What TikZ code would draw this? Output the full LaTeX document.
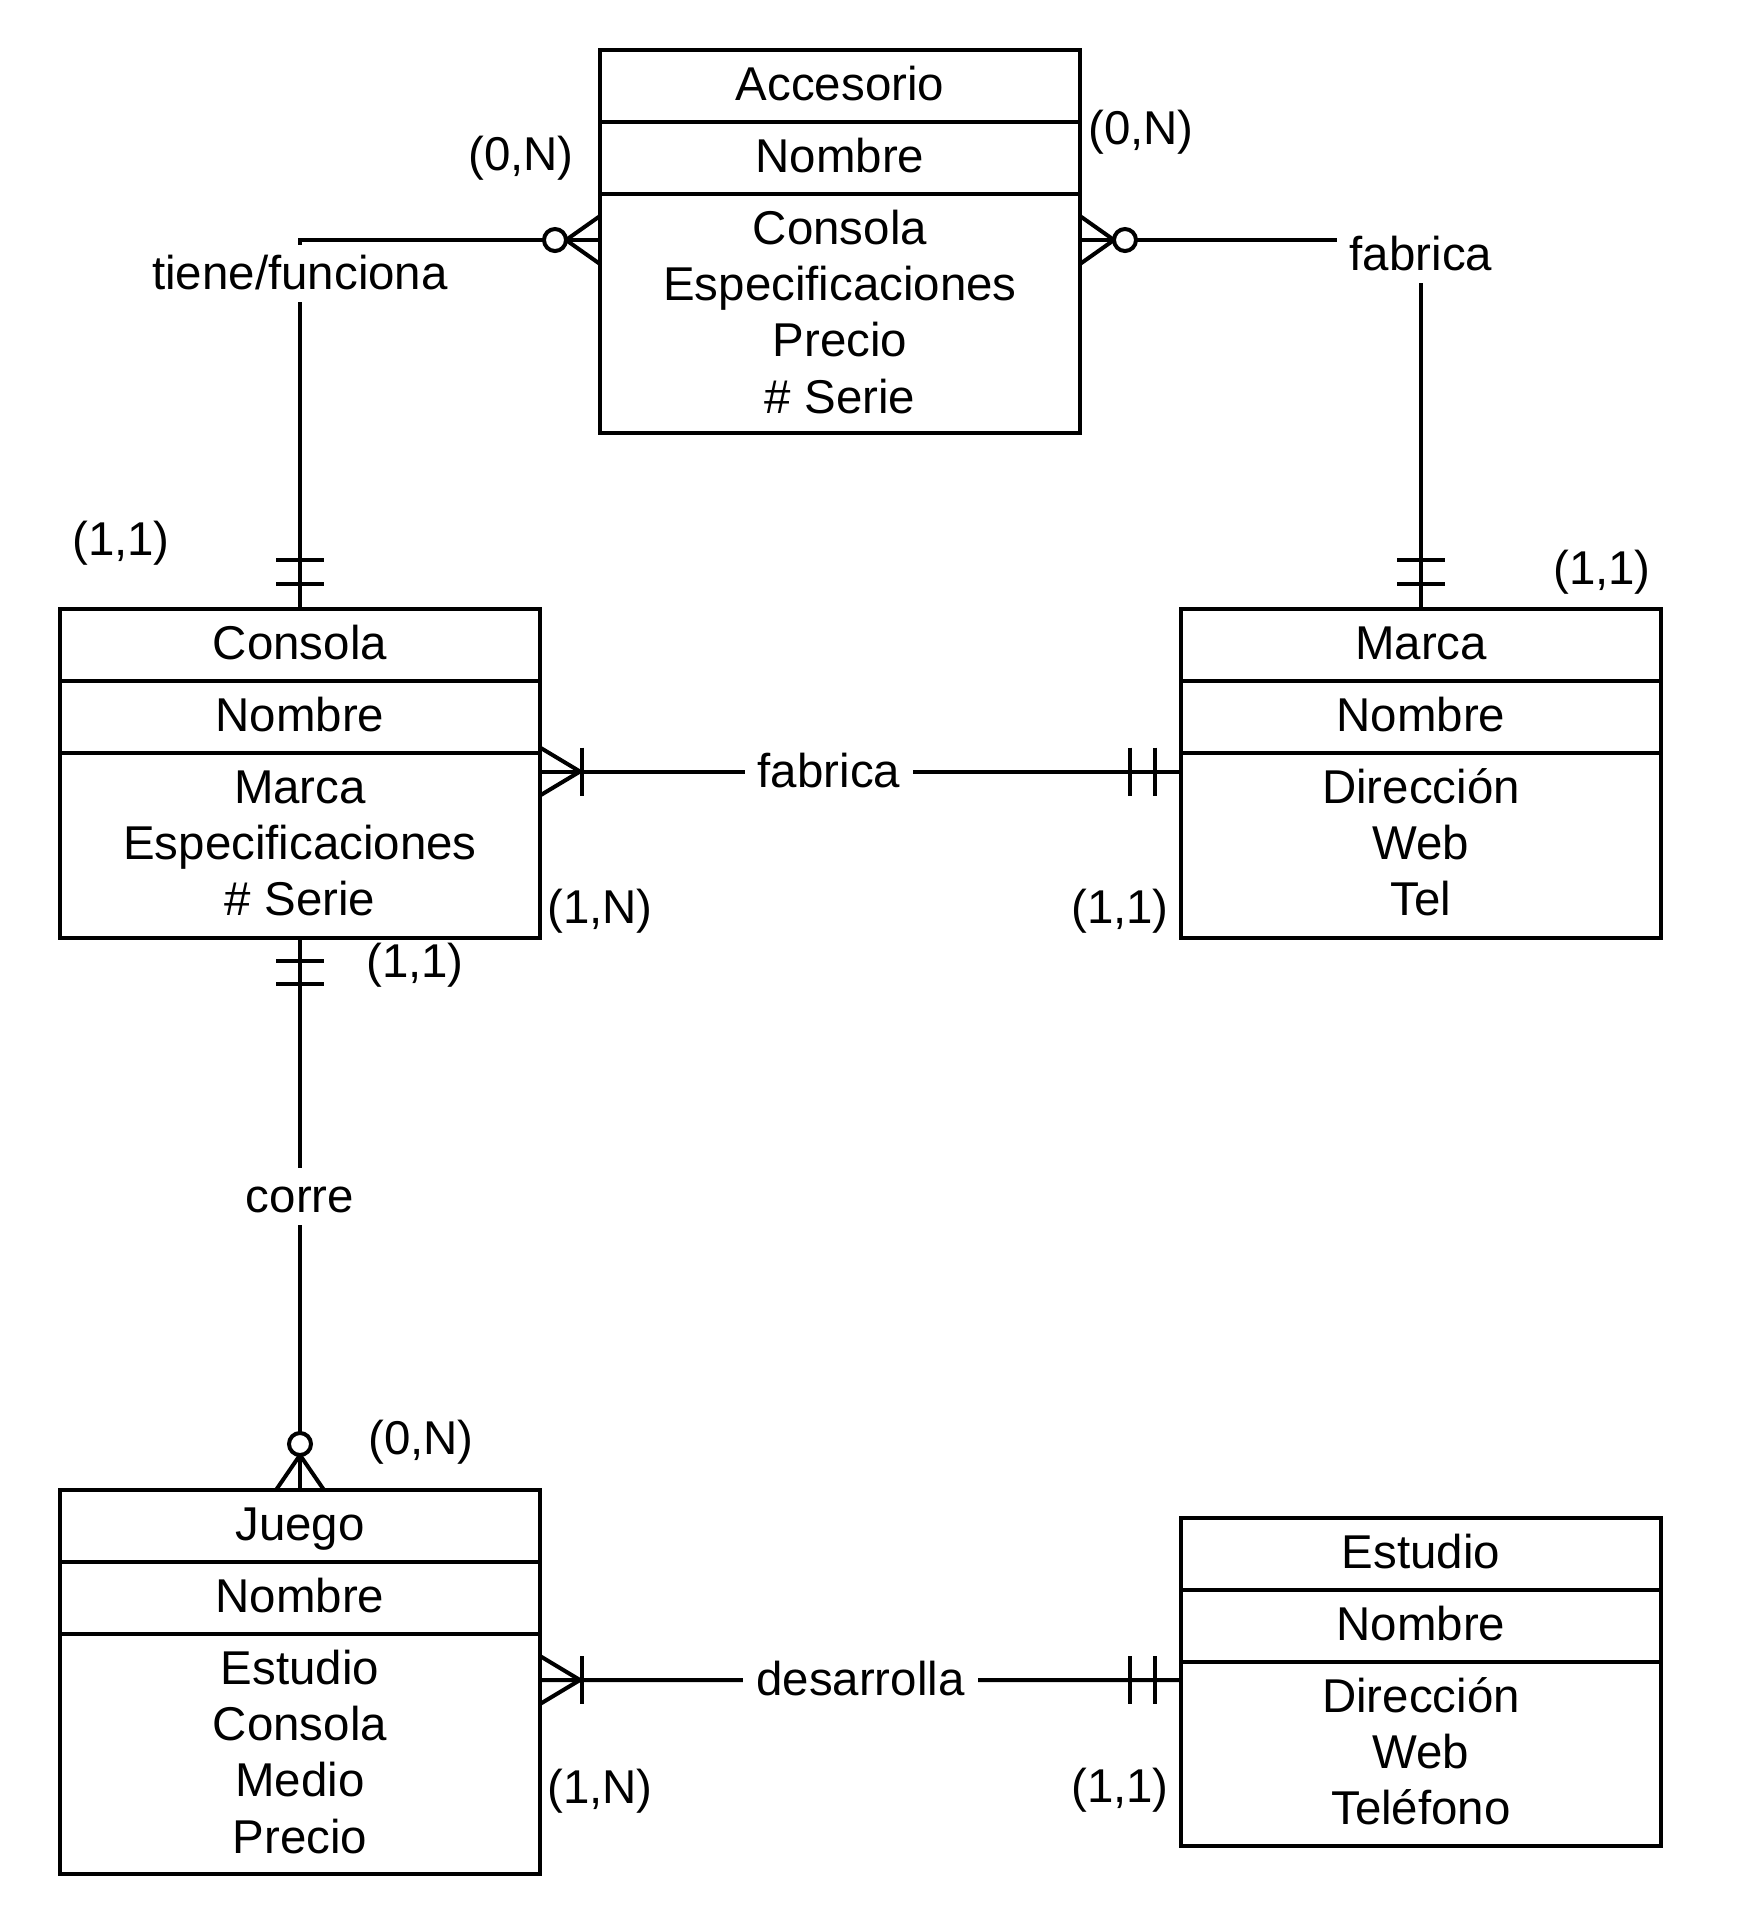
\documentclass[tikz,border=0pt]{standalone}
\usepackage{fontspec}
\setmainfont{Liberation Sans}
\usetikzlibrary{calc}
\begin{document}
\begin{tikzpicture}[x=1cm,y=1cm,line width=0.04cm,
  every node/.style={font=\fontsize{13.5pt}{16.05pt}\selectfont, inner sep=0pt, outer sep=0pt},
  ent/.style={draw, minimum width=4.8cm, minimum height=0.72cm, text height=0.40cm, text depth=0.11cm, anchor=north},
  comp/.style={draw, minimum width=4.8cm, anchor=north},
  attrs/.style={align=center, anchor=north},
  rel/.style={fill=white, inner xsep=0.13cm, text height=0.44cm, text depth=0.13cm, anchor=base},
  card/.style={text height=0.34cm, text depth=0.10cm}]
\useasboundingbox (0,0) rectangle (17.39,-19.24);

% ---------- entities ----------
% Accesorio
\node[ent] (acc-t) at (8.40,-0.50) {Accesorio};
\node[ent] (acc-k) at (acc-t.south) {Nombre};
\node[comp, minimum height=2.39cm] (acc-a) at (acc-k.south) {};
\node[attrs] (acc-x) at ($(acc-a.north)+(0,-0.10)$) {\rule{0pt}{0.40cm}Consola\\Especificaciones\\Precio\\\# Serie};
% Consola
\node[ent] (con-t) at (3.00,-6.09) {Consola};
\node[ent] (con-k) at (con-t.south) {Nombre};
\node[comp, minimum height=1.85cm] (con-a) at (con-k.south) {};
\node[attrs] (con-x) at ($(con-a.north)+(0,-0.10)$) {\rule{0pt}{0.40cm}Marca\\Especificaciones\\\# Serie};
% Marca
\node[ent] (mar-t) at (14.21,-6.09) {Marca};
\node[ent] (mar-k) at (mar-t.south) {Nombre};
\node[comp, minimum height=1.85cm] (mar-a) at (mar-k.south) {};
\node[attrs] (mar-x) at ($(mar-a.north)+(0,-0.10)$) {\rule{0pt}{0.40cm}Dirección\\Web\\Tel};
% Juego
\node[ent] (jue-t) at (3.00,-14.90) {Juego};
\node[ent] (jue-k) at (jue-t.south) {Nombre};
\node[comp, minimum height=2.40cm] (jue-a) at (jue-k.south) {};
\node[attrs] (jue-x) at ($(jue-a.north)+(0,-0.10)$) {\rule{0pt}{0.40cm}Estudio\\Consola\\Medio\\Precio};
% Estudio
\node[ent] (est-t) at (14.21,-15.18) {Estudio};
\node[ent] (est-k) at (est-t.south) {Nombre};
\node[comp, minimum height=1.84cm] (est-a) at (est-k.south) {};
\node[attrs] (est-x) at ($(est-a.north)+(0,-0.10)$) {\rule{0pt}{0.40cm}Dirección\\Web\\Teléfono};

% ---------- connectors ----------
% tiene/funciona
\coordinate (p1) at ($(acc-a.north west)+(0,-0.46)$);
\draw (p1) -| (con-t.north);
\draw ($(p1)+(0,0.24)$) -- ($(p1)+(-0.34,0)$) -- ($(p1)+(0,-0.24)$);
\draw[fill=white] ($(p1)+(-0.45,0)$) circle (0.11);
\draw ($(con-t.north)+(-0.24,0.25)$) -- ++(0.48,0);
\draw ($(con-t.north)+(-0.24,0.49)$) -- ++(0.48,0);
\node[rel] (r1) at (3.00,-2.89) {tiene/funciona};

% fabrica (Accesorio - Marca)
\coordinate (p2) at ($(acc-a.north east)+(0,-0.46)$);
\draw (p2) -| (mar-t.north);
\draw ($(p2)+(0,0.24)$) -- ($(p2)+(0.34,0)$) -- ($(p2)+(0,-0.24)$);
\draw[fill=white] ($(p2)+(0.45,0)$) circle (0.11);
\draw ($(mar-t.north)+(-0.24,0.25)$) -- ++(0.48,0);
\draw ($(mar-t.north)+(-0.24,0.49)$) -- ++(0.48,0);
\node[rel] (r2) at (14.21,-2.70) {fabrica};

% fabrica (Consola - Marca)
\coordinate (p3a) at ($(con-a.north east)+(0,-0.185)$);
\coordinate (p3b) at ($(mar-a.north west)+(0,-0.185)$);
\draw (p3a) -- (p3b);
\draw ($(p3a)+(0,0.24)$) -- ($(p3a)+(0.40,0)$) -- ($(p3a)+(0,-0.24)$);
\draw ($(p3a)+(0.42,0.24)$) -- ++(0,-0.48);
\draw ($(p3b)+(-0.26,0.24)$) -- ++(0,-0.48);
\draw ($(p3b)+(-0.51,0.24)$) -- ++(0,-0.48);
\node[rel] (r3) at (8.29,-7.87) {fabrica};

% corre
\draw (con-a.south) -- (jue-t.north);
\draw ($(con-a.south)+(-0.24,-0.23)$) -- ++(0.48,0);
\draw ($(con-a.south)+(-0.24,-0.46)$) -- ++(0.48,0);
\draw ($(jue-t.north)+(-0.24,0)$) -- ($(jue-t.north)+(0,0.35)$) -- ($(jue-t.north)+(0.24,0)$);
\draw[fill=white] ($(jue-t.north)+(0,0.46)$) circle (0.11);
\node[rel] (r4) at (3.00,-12.12) {corre};

% desarrolla
\coordinate (p5a) at ($(jue-a.north east)+(0,-0.46)$);
\coordinate (p5b) at ($(est-a.north west)+(0,-0.18)$);
\draw (p5a) -- (p5b);
\draw ($(p5a)+(0,0.24)$) -- ($(p5a)+(0.40,0)$) -- ($(p5a)+(0,-0.24)$);
\draw ($(p5a)+(0.42,0.24)$) -- ++(0,-0.48);
\draw ($(p5b)+(-0.26,0.24)$) -- ++(0,-0.48);
\draw ($(p5b)+(-0.51,0.24)$) -- ++(0,-0.48);
\node[rel] (r5) at (8.605,-16.95) {desarrolla};

% ---------- cardinalities ----------
\node[card] (c1) at (5.21,-1.58) {(0,N)};
\node[card] (c2) at (11.41,-1.32) {(0,N)};
\node[card] (c3) at (1.21,-5.43) {(1,1)};
\node[card] (c4) at (16.02,-5.72) {(1,1)};
\node[card] (c5) at (6.00,-9.11) {(1,N)};
\node[card] (c6) at (11.20,-9.11) {(1,1)};
\node[card] (c7) at (4.15,-9.65) {(1,1)};
\node[card] (c8) at (4.21,-14.42) {(0,N)};
\node[card] (c9) at (6.00,-17.91) {(1,N)};
\node[card] (c10) at (11.20,-17.90) {(1,1)};
\end{tikzpicture}
\end{document}
